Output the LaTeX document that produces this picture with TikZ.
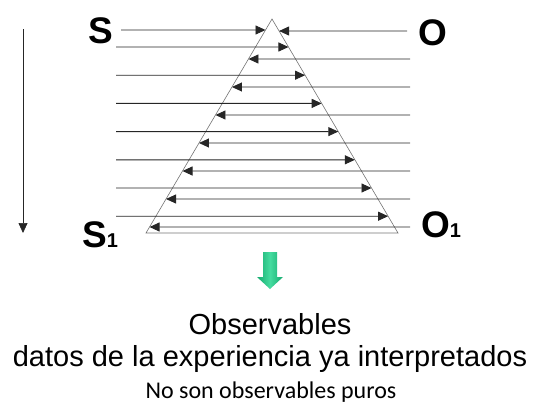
\documentclass[tikz,border=0pt]{standalone}
\usepackage{fontspec}
\setmainfont{Liberation Sans}
\newfontfamily\calibrifont{Carlito}
\usetikzlibrary{arrows.meta, calc, positioning}
\definecolor{arrowgreen}{RGB}{20,170,110}
\definecolor{arrowlight}{RGB}{70,220,160}

\begin{document}
\begin{tikzpicture}[
        x=1pt, y=-1pt,
        letter/.style={font=\fontsize{37}{37}\selectfont\bfseries, inner sep=0pt},
        ray/.style={-{Triangle[length=10pt,width=9pt]}, line width=0.9pt, draw=black!85},
        tri/.style={draw=black!55, line width=0.6pt},
        caption/.style={font=\fontsize{29}{33}\selectfont, anchor=base, inner sep=0pt}
    ]
    \useasboundingbox (0,0) rectangle (534,407);

    % The triangle
    \coordinate (apex) at (272,19);
    \coordinate (bl) at (146,233);
    \coordinate (br) at (398,233);
    \draw [tri] (apex) -- (br) -- (bl) -- cycle;

    % The labels
    \node (s) [letter] at (101,31) {S};
    \node (o) [letter] at (433,33) {O};
    \node (s1) [letter, anchor=base west] at (82,247) {S\fontsize{20}{20}\selectfont 1};
    \node (o1) [letter, anchor=base west] at (421,237) {O\fontsize{20}{20}\selectfont 1};

    % The first pair of rays, meeting at the apex
    \pgfmathsetmacro\tsa{11/214}
    \pgfmathsetmacro\toa{12/214}
    \coordinate (s0) at (121,30);
    \coordinate (st0) at ($(apex)!\tsa!(bl)$);
    \coordinate (o0) at (407,31);
    \coordinate (ot0) at ($(apex)!\toa!(br)$);
    \draw [ray] (s0) -- (st0);
    \draw [ray] (o0) -- (ot0);

    % Rays from S to the right side
    \foreach \y [count=\i] in {47,75.2,103.4,131.6,159.8,188,216.2} {
        \pgfmathsetmacro\t{(\y-19)/214}
        \coordinate (r\i) at (116,\y);
        \coordinate (rt\i) at ($(apex)!\t!(br)$);
        \draw [ray] (r\i) -- (rt\i);
    }

    % Rays from O to the left side
    \foreach \y [count=\i] in {59,87,115,143,171,199,227} {
        \pgfmathsetmacro\t{(\y-19)/214}
        \coordinate (l\i) at (410,\y);
        \coordinate (lt\i) at ($(apex)!\t!(bl)$);
        \draw [ray] (l\i) -- (lt\i);
    }

    % The time arrow
    \coordinate (top) at (23,29);
    \coordinate (bottom) at (23,233);
    \draw [ray, line width=0.7pt] (top) -- (bottom);

    % The green arrow
    \shade [left color=arrowgreen, right color=arrowgreen, middle color=arrowlight]
        (263,252) -- (277,252) -- (277,277) -- (283,277) -- (270,289) -- (257,277) -- (263,277) -- cycle;

    % The captions
    \node (obs) [caption] at (270,334) {Observables};
    \node (datos) [caption] at (270,366) {datos de la experiencia ya interpretados};
    \node (puros) [caption, font=\calibrifont\fontsize{24}{28}\selectfont] at (271,398) {No son observables puros};

\end{tikzpicture}
\end{document}
